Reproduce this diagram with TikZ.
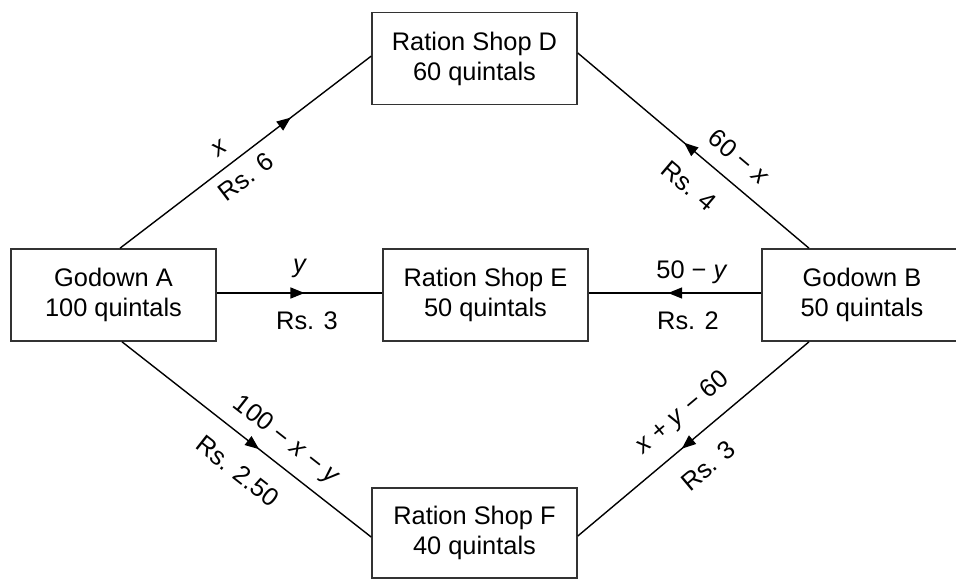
\documentclass[tikz,border=0pt]{standalone}
\usepackage{fontspec}
\setmainfont{Liberation Sans}
\usetikzlibrary{arrows.meta,decorations.markings}
\tikzset{
  box/.style={draw=black!80, line width=0.8pt, minimum width=102.5pt, minimum height=46pt,
    inner sep=0pt, align=center, font=\fontsize{12.7}{15}\selectfont},
  flow/.style={line width=0.7pt, postaction={decorate},
    decoration={markings, mark=at position #1 with {\arrow{Triangle[length=7pt,width=5.5pt]}}}},
  lbl/.style={inner sep=0pt, font=\fontsize{12.7}{15}\selectfont},
}
\begin{document}
\begin{tikzpicture}[x=0.5pt,y=-0.5pt]
\useasboundingbox (0,0) rectangle (956,579);
\clip (0,0) rectangle (956,579);
\node[box] (A) at (113.5,295) {Godown A\\100 quintals};
\node[box] (D) at (474.5,58.5) {Ration Shop D\\60 quintals};
\node[box] (E) at (485.5,295) {Ration Shop E\\50 quintals};
\node[box, minimum width=100pt] (B) at (862,295) {Godown B\\50 quintals};
\node[box, minimum height=45pt] (F) at (474.5,533) {Ration Shop F\\40 quintals};
% connectors
\draw[flow=0.68] ([xshift=3.25pt]A.north) -- ([yshift=1.2pt]D.west);
\draw[flow=0.54] ([xshift=-26.5pt]B.north) -- ([yshift=2.75pt]D.east);
\draw[flow=0.53] ([yshift=1pt]A.east) -- ([yshift=1pt]E.west);
\draw[flow=0.54] ([yshift=1pt]B.west) -- ([yshift=1pt]E.east);
\draw[flow=0.55] ([xshift=4.25pt]A.south) -- ([yshift=-2pt]F.west);
\draw[flow=0.55] ([xshift=-26.5pt]B.south) -- ([yshift=-1.5pt]F.east);
% labels
\node[lbl, rotate=37.4] (lx) at (220,148) {\textit{x}};
\node[lbl, rotate=37.4] (l6) at (246,177) {Rs. 6};
\node[lbl, rotate=-40.2] (l60x) at (739,157) {60 − \textit{x}};
\node[lbl, rotate=-40.2] (l4) at (689,186) {Rs. 4};
\node[lbl] (ly) at (300,268) {\textit{y}};
\node[lbl] (l3a) at (307,321) {Rs. 3};
\node[lbl] (l50y) at (692,272) {50 − \textit{y}};
\node[lbl] (l2) at (688,321) {Rs. 2};
\node[lbl, rotate=-38.1] (l100) at (286,441) {100 − \textit{x} − \textit{y}};
\node[lbl, rotate=-38.1] (l250) at (238,471) {Rs. 2.50};
\node[lbl, rotate=40] (lxy) at (683,413) {\textit{x} + \textit{y} − 60};
\node[lbl, rotate=40] (l3b) at (708,466) {Rs. 3};
\end{tikzpicture}
\end{document}
